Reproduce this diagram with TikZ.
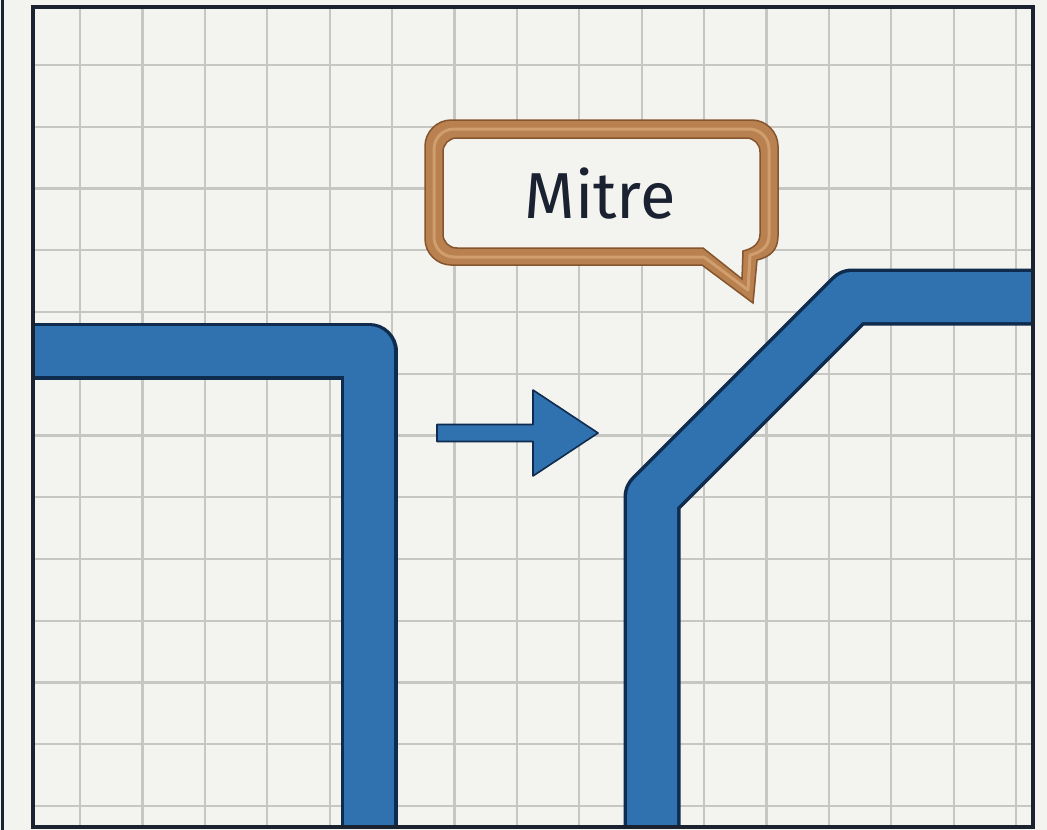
\documentclass[tikz,border=0pt]{standalone}
\usepackage{fontspec}
\newfontfamily\labelfont{Fira Sans}
\definecolor{bgc}{HTML}{F3F3EF}
\definecolor{gridc}{HTML}{C6C6C2}
\definecolor{framec}{HTML}{1B2330}
\definecolor{bluec}{HTML}{3071B0}
\definecolor{blueedge}{HTML}{0F2C4E}
\definecolor{copper}{HTML}{B98050}
\definecolor{copperedge}{HTML}{85552E}
\definecolor{copperlight}{HTML}{D09E6C}
\definecolor{textc}{HTML}{1A2232}
\tikzset{
  gridline/.style={draw=gridc, line width=2.2},
  bandedge/.style={draw=blueedge, line width=57, line join=round},
  bandfill/.style={draw=bluec, line width=50, line join=round},
  arrowshape/.style={fill=bluec, draw=blueedge, line width=1.6, line join=round},
  frameline/.style={draw=framec, line width=4},
}
\begin{document}
\begin{tikzpicture}[x=1pt,y=-1pt]
\useasboundingbox (0,0) rectangle (1047,830);
\fill[bgc] (0,0) rectangle (1047,830);
\draw[framec, line width=3] (2,0) -- (2,830);
% grid inside frame
\begin{scope}
  \clip (33,7) rectangle (1033,827);
  \fill[bgc] (33,7) rectangle (1033,827);
  \foreach \k in {0,...,15} {
    \draw[gridline] ({80+62.4*\k},7) -- ({80+62.4*\k},827);
  }
  \foreach \k in {0,...,12} {
    \draw[gridline] (33,{65+61.75*\k}) -- (1033,{65+61.75*\k});
  }
  % left path
  \coordinate (la) at (20,351);
  \coordinate (lb) at (369,351);
  \coordinate (lc) at (369,850);
  \draw[bandedge] (la) -- (lb) -- (lc);
  \draw[bandfill] (la) -- (lb) -- (lc);
  % right path
  \coordinate (ra) at (652,850);
  \coordinate (rb) at (652,497);
  \coordinate (rc) at (852,297);
  \coordinate (rd) at (1050,297);
  \draw[bandedge] (ra) -- (rb) -- (rc) -- (rd);
  \draw[bandfill] (ra) -- (rb) -- (rc) -- (rd);
\end{scope}
\draw[frameline] (33,7) rectangle (1033,827);
% arrow
\coordinate (as) at (437,433);
\coordinate (at) at (598,433);
\draw[arrowshape] (437,424.5) -- (533,424.5) -- (533,390) -- (at) -- (533,476) -- (533,441.5) -- (437,441.5) -- cycle;
% callout
\fill[copper, draw=copperedge, line width=1.5]
  (451,120) -- (752,120) .. controls (766,120) and (778,132) .. (778,146)
  -- (778,236) .. controls (778,250) and (770,257) .. (757,260)
  -- (753,303) -- (702,265) -- (451,265)
  .. controls (437,265) and (425,253) .. (425,239)
  -- (425,146) .. controls (425,132) and (437,120) .. (451,120) -- cycle;
\draw[copperlight, line width=3, line join=round]
  (454,129) -- (749,129) .. controls (760,129) and (769,138) .. (769,149)
  -- (769,236) .. controls (769,245) and (763,252) .. (750,255)
  -- (748,290) -- (704,257) -- (454,257)
  .. controls (443,257) and (434,248) .. (434,237)
  -- (434,149) .. controls (434,138) and (443,129) .. (454,129) -- cycle;
\fill[bgc, draw=copperedge, line width=1.5]
  (457,138) -- (746,138) .. controls (754,138) and (760,144) .. (760,152)
  -- (760,234) .. controls (760,244) and (752,249) .. (743,251)
  -- (742,279) -- (703,248) -- (457,248)
  .. controls (449,248) and (443,242) .. (443,234)
  -- (443,152) .. controls (443,144) and (449,138) .. (457,138) -- cycle;
\node[text=textc, inner sep=0, anchor=base] (label) at (600,218)
  {\labelfont\fontsize{65}{75}\selectfont Mitre};
\end{tikzpicture}
\end{document}
